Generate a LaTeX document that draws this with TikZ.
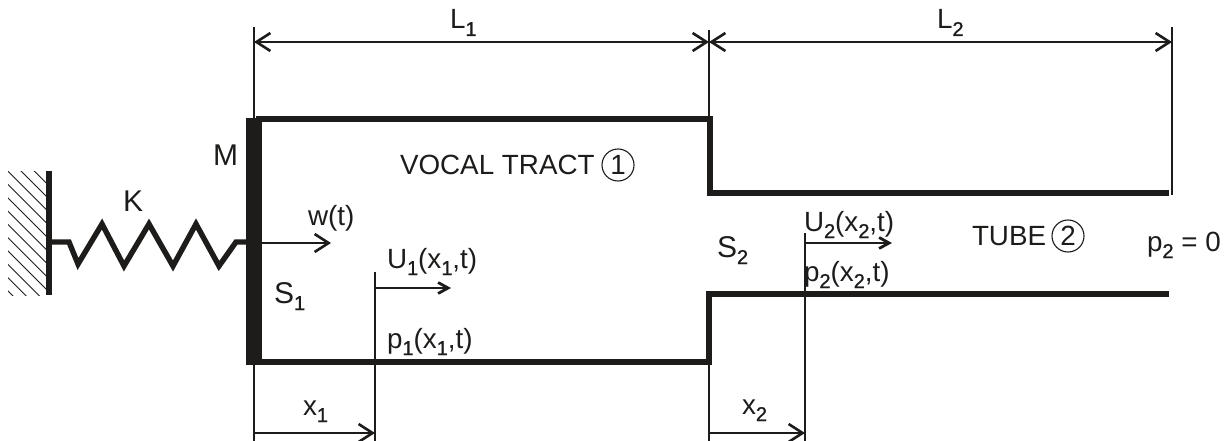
\documentclass[tikz,border=0pt]{standalone}
\usepackage{fontspec}
\setmainfont{Liberation Sans}
\usetikzlibrary{arrows.meta}
\definecolor{ink}{HTML}{1E1C1A}
\newcommand{\subb}[1]{\raisebox{-7pt}{\fontsize{20}{20}\selectfont\addfontfeature{FakeBold=1}#1}}
\tikzset{
  x=1pt,y=-1pt,
  wallline/.style={line width=6pt,color=ink,line cap=butt,line join=miter},
  thin line/.style={line width=1.1pt,color=ink},
  dim/.style={line width=2.6pt,color=ink,{Straight Barb[length=14pt,width=18pt,line width=2.6pt]}-{Straight Barb[length=14pt,width=18pt,line width=2.6pt]}},
  dimr/.style={line width=2.6pt,color=ink,-{Straight Barb[length=14pt,width=18pt,line width=2.6pt]}},
  flow/.style={line width=2.4pt,color=ink,-{Straight Barb[length=10pt,width=11pt,line width=2.8pt]}},
  flowbig/.style={line width=2.4pt,color=ink,-{Straight Barb[length=14pt,width=18pt,line width=2.6pt]}},
  lab/.style={anchor=base west,inner sep=0pt,outer sep=0pt,color=ink,font=\fontsize{27.8}{28}\selectfont},
  labbig/.style={lab,font=\fontsize{30}{30}\selectfont},
  circ/.style={circle,draw=ink,line width=1.1pt,minimum size=32pt,inner sep=0pt,color=ink,font=\fontsize{27.8}{28}\selectfont},
}
\begin{document}
\begin{tikzpicture}
\useasboundingbox (0,0) rectangle (1231,441);
% named points
\coordinate (wtop) at (254,27);
\coordinate (wtopb) at (254,118);
\coordinate (wbot) at (254,365);
\coordinate (wbotb) at (254,441);
\coordinate (jtop) at (709,30);
\coordinate (jtopb) at (709,118);
\coordinate (jbot) at (709,362);
\coordinate (jbotb) at (709,441);
\coordinate (etop) at (1172,27);
\coordinate (ebot) at (1172,195);
\coordinate (xa) at (375,272);
\coordinate (xab) at (375,441);
\coordinate (xb) at (805,233);
\coordinate (xbb) at (805,441);
\coordinate (l1a) at (254,42);
\coordinate (l1b) at (709,42);
\coordinate (l2b) at (1172,42);
\coordinate (x1a) at (254,433);
\coordinate (x1b) at (375,433);
\coordinate (x2a) at (709,433);
\coordinate (x2b) at (805,433);
\coordinate (wa) at (262,243);
\coordinate (wb) at (331,243);
\coordinate (u1a) at (375,288);
\coordinate (u1b) at (451,288);
\coordinate (u2a) at (805,243);
\coordinate (u2b) at (892,243);
% hatching
\begin{scope}
\clip (8,171) rectangle (47,295);
\foreach \i in {-4,...,13}{
  \draw[line width=0.9pt,color=ink] (0,150+\i*13.3) -- ++(60,60);
}
\end{scope}
% ground wall
\draw[wallline] (49,171) -- (49,295);
% spring
\draw[wallline,line width=5.4pt] (50,242) -- (69,242) -- (78,264) -- (102,224) -- (124,266) -- (149,224) -- (173,266) -- (196,224) -- (219,266) -- (236,242) -- (247,242);
% tubes
\draw[wallline] (256,119) -- (710,119) -- (710,192.5) -- (1169,192.5);
\draw[wallline] (256,362) -- (709,362) -- (709,294) -- (1169,294);
% mass
\fill[ink] (246,118) rectangle (262,365);
% extension lines
\draw[thin line] (wtop) -- (wtopb);
\draw[thin line] (wbot) -- (wbotb);
\draw[thin line] (jtop) -- (jtopb);
\draw[thin line] (jbot) -- (jbotb);
\draw[thin line] (etop) -- (ebot);
\draw[thin line] (xa) -- (xab);
\draw[thin line] (xb) -- (xbb);
% dims
\draw[dim] (l1a) -- (l1b);
\draw[dim] (l1b) -- (l2b);
\draw[dimr] (x1a) -- (x1b);
\draw[dimr] (x2a) -- (x2b);
\draw[flowbig] (wa) -- (wb);
\draw[flow] (u1a) -- (u1b);
\draw[flow] (u2a) -- (u2b);
% labels
\node[lab] (tl1) at (450,29) {L\subb{1}};
\node[lab] (tl2) at (937,29) {L\subb{2}};
\node[labbig] (tm) at (213,165) {M};
\node[labbig] (tk) at (123,211) {K};
\node[lab] (tw) at (308,225) {w(t)};
\node[labbig] (ts1) at (274,303) {S\subb{1}};
\node[labbig] (ts2) at (717,257) {S\subb{2}};
\node[lab] (tvt) at (400,175) {VOCAL TRACT};
\node[circ] (c1) at (618,165) {1};
\node[lab] (ttb) at (972,245) {TUBE};
\node[circ] (c2) at (1068,236) {2};
\node[lab] (tu1) at (387,268) {U\subb{1}(x\subb{1},t)};
\node[lab] (tp1) at (387,348) {p\subb{1}(x\subb{1},t)};
\node[lab] (tu2) at (804,231) {U\subb{2}(x\subb{2},t)};
\node[lab] (tp2) at (804,281) {p\subb{2}(x\subb{2},t)};
\node[lab] (tx1) at (303,415) {x\subb{1}};
\node[lab] (tx2) at (742,414) {x\subb{2}};
\node[lab] (tp0) at (1147,251) {p\subb{2} = 0};
\end{tikzpicture}
\end{document}
